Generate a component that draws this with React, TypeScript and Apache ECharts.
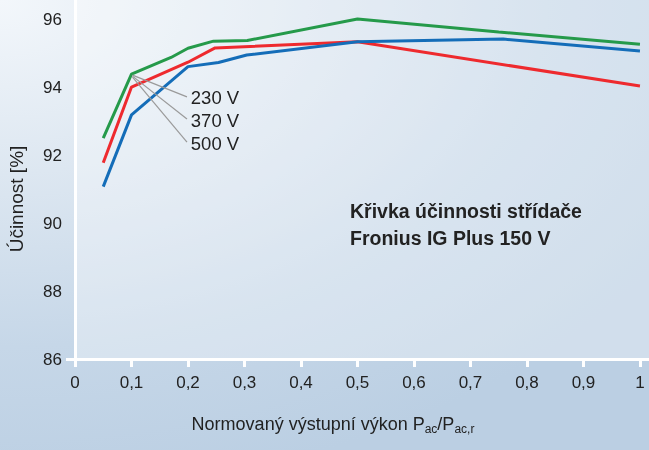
import React, { useEffect, useRef } from 'react';
import * as echarts from 'echarts';

const xTicks = [0, 0.1, 0.2, 0.3, 0.4, 0.5, 0.6, 0.7, 0.8, 0.9, 1];
const yTicks = [86, 88, 90, 92, 94, 96];

const x230 = [0.05, 0.1, 0.17, 0.2, 0.245, 0.305, 0.5, 0.75, 1.0];
const y230 = [92.5, 94.38, 94.87, 95.14, 95.35, 95.37, 96.0, 95.62, 95.26];
const x370 = [0.05, 0.1, 0.2, 0.248, 0.5, 1.0];
const y370 = [91.77, 94.0, 94.73, 95.15, 95.33, 94.03];
const x500 = [0.05, 0.1, 0.2, 0.254, 0.304, 0.5, 0.758, 1.0];
const y500 = [91.07, 93.18, 94.6, 94.72, 94.94, 95.33, 95.41, 95.06];

const seriesNames = ['230 V', '370 V', '500 V'];
const labelY = [93.68, 93.03, 92.35];
const labelX = 0.205;
const leaderFrom = [0.1, 94.38];

const titleLines = ['Křivka účinnosti střídače', 'Fronius IG Plus 150 V'];
const yName = 'Účinnost [%]';

const FONT = '"Liberation Sans", Arial, Helvetica, sans-serif';

const zip = (xs: number[], ys: number[]) => xs.map((x, i) => [x, ys[i]]);

export default function App() {
  const ref = useRef<HTMLDivElement>(null);
  useEffect(() => {
    if (!ref.current) return;
    const chart = echarts.init(ref.current, undefined, { renderer: 'svg' });
    const colors = ['#259a4a', '#ee2a2e', '#146db8'];
    chart.setOption({
      animation: false,
      textStyle: { fontFamily: FONT },
      grid: {
        left: 75,
        right: 0,
        top: 0,
        bottom: 91,
        show: true,
        borderWidth: 0,
        backgroundColor: 'rgba(255,255,255,0.32)',
      },
      xAxis: {
        type: 'value',
        min: 0,
        max: 1.016,
        interval: 0.1,
        axisLine: { show: true, onZero: false, lineStyle: { color: '#ffffff', width: 3 } },
        axisTick: {
          show: true,
          length: 8,
          customValues: xTicks,
          lineStyle: { color: '#ffffff', width: 3 },
        },
        axisLabel: {
          customValues: xTicks,
          formatter: (v: number) => String(v).replace('.', ','),
          color: '#222',
          fontSize: 17,
          fontFamily: FONT,
          margin: 15,
        },
        splitLine: { show: false },
      },
      yAxis: {
        type: 'value',
        min: 86,
        max: 96.56,
        interval: 2,
        axisLine: { show: true, lineStyle: { color: '#ffffff', width: 3 } },
        axisTick: {
          show: true,
          length: 9,
          customValues: [86],
          lineStyle: { color: '#ffffff', width: 3 },
        },
        axisLabel: {
          customValues: yTicks,
          color: '#222',
          fontSize: 17,
          fontFamily: FONT,
          margin: 13,
        },
        splitLine: {
          show: true,
          showMaxLine: false,
          lineStyle: { color: '#ffffff', width: 1.5 },
        },
      },
      series: [
        { name: seriesNames[1], type: 'line', data: zip(x370, y370), showSymbol: false, symbol: 'none', lineStyle: { color: colors[1], width: 3 }, z: 2 },
        { name: seriesNames[2], type: 'line', data: zip(x500, y500), showSymbol: false, symbol: 'none', lineStyle: { color: colors[2], width: 3 }, z: 3 },
        { name: seriesNames[0], type: 'line', data: zip(x230, y230), showSymbol: false, symbol: 'none', lineStyle: { color: colors[0], width: 3 }, z: 4 },
      ],
    });

    const p = (x: number, y: number) => chart.convertToPixel({ gridIndex: 0 }, [x, y]) as number[];
    const start = p(leaderFrom[0], leaderFrom[1]);
    const graphics: any[] = [];
    seriesNames.forEach((name, i) => {
      const end = p(0.2, labelY[i]);
      const tp = p(labelX, labelY[i]);
      graphics.push({
        type: 'line',
        shape: { x1: start[0] + 1, y1: start[1] + 1 + i, x2: end[0] - 1, y2: end[1] - 1 },
        style: { stroke: '#9a9a9a', lineWidth: 1.2 },
        z: 10,
      });
      graphics.push({
        type: 'text',
        x: tp[0],
        y: tp[1],
        style: { text: name, font: `18.5px ${FONT}`, fill: '#222', textAlign: 'left', textVerticalAlign: 'middle' },
        z: 10,
      });
    });
    titleLines.forEach((t, i) => {
      graphics.push({
        type: 'text',
        x: 350,
        y: 211 + i * 27,
        style: { text: t, font: `bold 19.5px ${FONT}`, fill: '#222', textAlign: 'left', textVerticalAlign: 'middle' },
        z: 10,
      });
    });
    graphics.push({
      type: 'text',
      x: 16,
      y: 199,
      rotation: Math.PI / 2,
      style: { text: yName, font: `19px ${FONT}`, fill: '#222', textAlign: 'center', textVerticalAlign: 'middle' },
      z: 10,
    });
    graphics.push({
      type: 'text',
      x: 333,
      y: 424,
      style: {
        text: '{m|Normovaný výstupní výkon P}{s|ac}{m|/P}{s|ac,r}',
        textAlign: 'center',
        textVerticalAlign: 'middle',
        rich: {
          m: { fontSize: 18, fontFamily: FONT, fill: '#222', lineHeight: 22 },
          s: { fontSize: 12, fontFamily: FONT, fill: '#222', lineHeight: 22, padding: [10, 0, 0, 0] },
        },
      },
      z: 10,
    });
    chart.setOption({ graphic: graphics });

    return () => chart.dispose();
  }, []);

  return (
    <div
      style={{
        position: 'fixed',
        left: 0,
        top: 0,
        width: 649,
        height: 450,
        background:
          'radial-gradient(ellipse 120% 110% at 0% 0%, #f3f7fb 0%, #dde7f1 35%, #c6d7e8 70%, #bbcfe3 100%)',
      }}
    >
      <div ref={ref} style={{ width: 649, height: 450 }} />
    </div>
  );
}
